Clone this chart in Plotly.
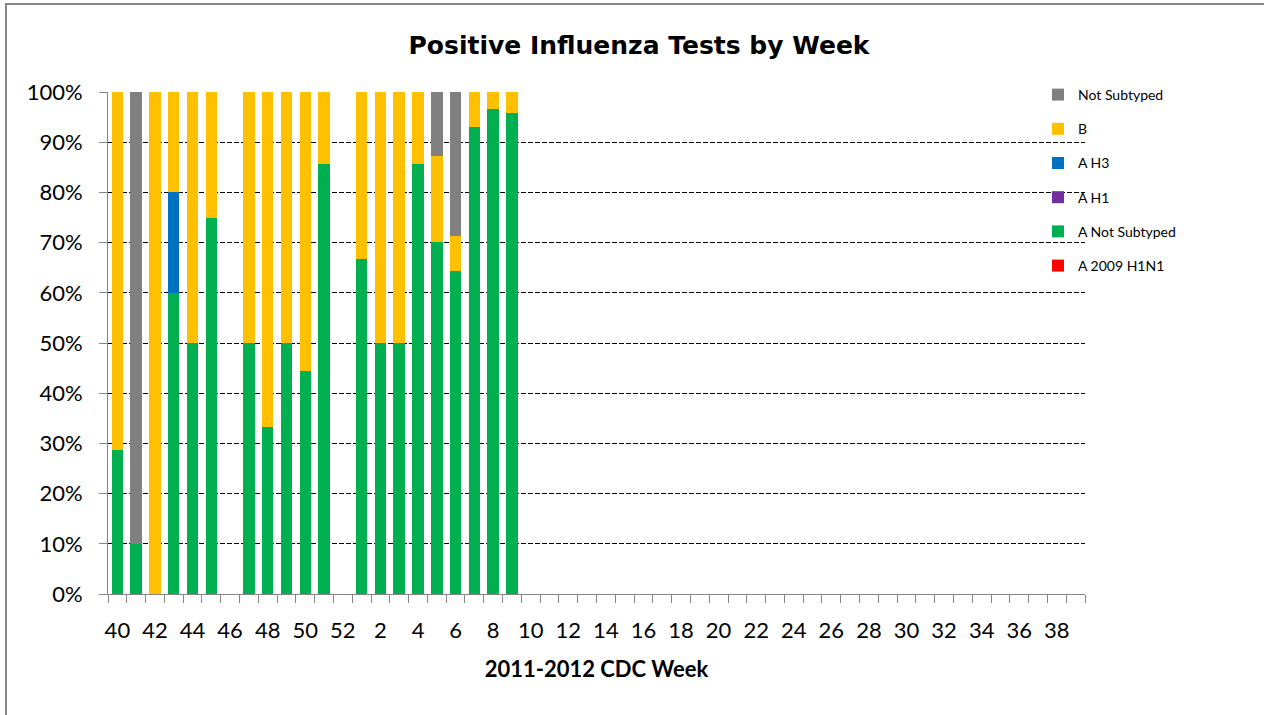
import plotly.graph_objects as go

# CDC weeks of the 2011-2012 season (axis categories)
weeks = [40, 41, 42, 43, 44, 45, 46, 47, 48, 49, 50, 51, 52,
         1, 2, 3, 4, 5, 6, 7, 8, 9, 10, 11, 12, 13, 14, 15, 16, 17, 18, 19,
         20, 21, 22, 23, 24, 25, 26, 27, 28, 29, 30, 31, 32, 33, 34, 35, 36,
         37, 38, 39]

# weeks that have reported positive tests
data_weeks = [40, 41, 42, 43, 44, 45, 46, 47, 48, 49, 50, 51, 52,
              1, 2, 3, 4, 5, 6, 7, 8, 9]

# share of positive tests (%) per subtype, one value per data week
a_2009_h1n1 = [0, 0, 0, 0, 0, 0, 0, 0, 0, 0, 0, 0, 0,
               0, 0, 0, 0, 0, 0, 0, 0, 0]
a_not_subtyped = [28.6, 10.0, 0, 60.0, 50.0, 75.0, 0, 50.0, 33.3, 50.0, 44.4, 85.7, 0,
                  66.7, 50.0, 50.0, 85.7, 70.2, 64.3, 93.1, 96.6, 95.8]
a_h1 = [0, 0, 0, 0, 0, 0, 0, 0, 0, 0, 0, 0, 0,
        0, 0, 0, 0, 0, 0, 0, 0, 0]
a_h3 = [0, 0, 0, 20.0, 0, 0, 0, 0, 0, 0, 0, 0, 0,
        0, 0, 0, 0, 0, 0, 0, 0, 0]
b = [71.4, 0, 100.0, 20.0, 50.0, 25.0, 0, 50.0, 66.7, 50.0, 55.6, 14.3, 0,
     33.3, 50.0, 50.0, 14.3, 17.0, 7.1, 6.9, 3.4, 4.2]
not_subtyped = [0, 90.0, 0, 0, 0, 0, 0, 0, 0, 0, 0, 0, 0,
                0, 0, 0, 0, 12.8, 28.6, 0, 0, 0]

# stacked bottom to top
series = [
    ("A 2009 H1N1", a_2009_h1n1, "#FF0000"),
    ("A Not Subtyped", a_not_subtyped, "#00B050"),
    ("A H1", a_h1, "#7030A0"),
    ("A H3", a_h3, "#0070C0"),
    ("B", b, "#FFC000"),
    ("Not Subtyped", not_subtyped, "#808080"),
]

x_pos = [weeks.index(w) for w in data_weeks]

fig = go.Figure()
for i, (name, vals, color) in enumerate(series):
    fig.add_trace(go.Bar(
        x=x_pos, y=[v / 100 for v in vals], name=name,
        marker=dict(color=color, line=dict(width=0)),
        legendgroup=name,
        legendrank=1000 - i,
        customdata=data_weeks,
        hovertemplate="Week %{customdata}: %{y:.1%}<extra>" + name + "</extra>",
    ))

axis_gray = "#868686"
W, H = 1264, 715
L, R, T, B = 108, 179, 92, 121
pw, ph = W - L - R, H - T - B

fig.update_layout(
    width=W, height=H,
    barmode="stack", bargap=0.39,
    paper_bgcolor="white", plot_bgcolor="white",
    margin=dict(l=L, r=R, t=T, b=B, pad=0),
    font=dict(family="Lato", size=22, color="black"),
    title=dict(text="<b>Positive Influenza Tests by Week</b>",
               font=dict(family="DejaVu Sans", size=25, color="black"),
               x=639 / W, xanchor="center", y=1 - 45 / H, yanchor="middle",
               xref="container", yref="container"),
    showlegend=True,
    legend=dict(traceorder="grouped", font=dict(family="Lato", size=14),
                x=(1038 - L) / pw, xanchor="left", y=1 + (T - 79) / ph, yanchor="top",
                tracegroupgap=13, bgcolor="rgba(0,0,0,0)", borderwidth=0),
    xaxis=dict(
        range=[-0.5, len(weeks) - 0.5],
        tickmode="array",
        tickvals=list(range(0, len(weeks), 2)),
        ticktext=[str(w) for w in weeks[::2]],
        ticks="", showgrid=False, zeroline=False,
        showline=True, linecolor=axis_gray, linewidth=1,
        tickfont=dict(family="Lato", size=22),
        ticklabelstandoff=17,
        minor=dict(tickmode="array",
                   tickvals=[i - 0.5 for i in range(len(weeks) + 1)],
                   ticks="outside", ticklen=8, tickcolor=axis_gray, tickwidth=1,
                   showgrid=False),
        title=dict(text="<b>2011-2012 CDC Week</b>",
                   font=dict(family="Lato", size=22), standoff=19),
    ),
    yaxis=dict(
        range=[0, 1], tickmode="linear", tick0=0, dtick=0.1, tickformat=".0%",
        ticks="outside", ticklen=8, tickcolor=axis_gray, tickwidth=1,
        showline=True, linecolor=axis_gray, linewidth=1,
        showgrid=True, gridcolor="black", griddash="5px,2px", gridwidth=1,
        zeroline=False, tickfont=dict(family="Lato", size=22),
        ticklabelstandoff=12,
    ),
    shapes=[dict(type="rect", xref="paper", yref="paper",
                 x0=(6 - L) / pw, x1=1.5, y0=-1.0, y1=1 + (T - 4) / ph,
                 line=dict(color=axis_gray, width=2), fillcolor="rgba(0,0,0,0)",
                 layer="below")],
)

fig.write_html("out.html",
               config={"displayModeBar": False},
               post_script="document.body.style.margin='0';"
                           "document.body.style.overflow='hidden';")
